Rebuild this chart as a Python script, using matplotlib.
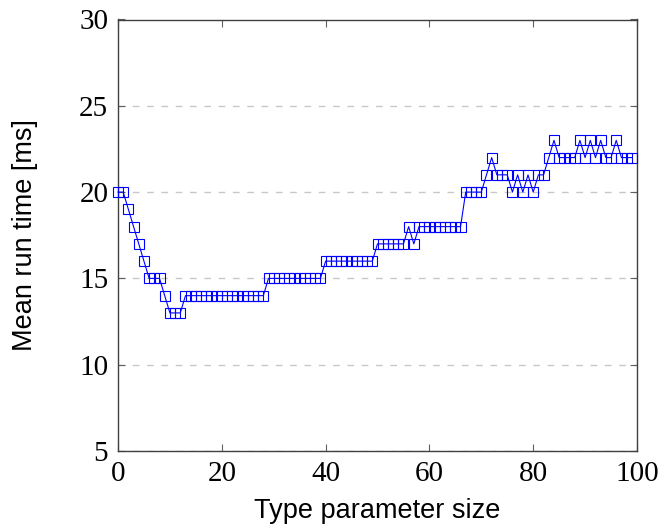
import matplotlib
matplotlib.use("Agg")
import matplotlib.pyplot as plt

# Data
sizes = list(range(0, 100))
run_time = (
    [20, 20, 19, 18, 17, 16, 15, 15, 15, 14, 13, 13, 13]
    + [14] * 16            # 13..28
    + [15] * 11            # 29..39
    + [16] * 10            # 40..49
    + [17] * 6             # 50..55
    + [18, 17]             # 56, 57
    + [18] * 9             # 58..66
    + [20] * 4             # 67..70
    + [21, 22, 21, 21, 21, 20, 21, 20, 21, 20, 21, 21, 22, 23]  # 71..84
    + [22, 22, 22, 22, 23, 22, 23, 22, 23, 22, 22, 23, 22, 22, 22]  # 85..99
)

x_ticks = [0, 20, 40, 60, 80, 100]
y_ticks = [5, 10, 15, 20, 25, 30]
x_label = "Type parameter size"
y_label = "Mean run time [ms]"

fig = plt.figure(figsize=(6.6, 5.26), dpi=100)
ax = fig.add_axes([118/660, 1 - 451/526, (637 - 118)/660, (451 - 19.5)/526])

ax.plot(sizes, run_time, color=(0, 0, 1), lw=0.8, marker='s', markersize=7.6,
        markerfacecolor='none', markeredgecolor=(0, 0, 1), markeredgewidth=0.8,
        clip_on=False, zorder=3)

ax.set_xlim(0, 100)
ax.set_ylim(5, 30)
ax.set_xticks(x_ticks)
ax.set_yticks(y_ticks)

ax.yaxis.grid(True, color='#c8c8c8', lw=1.0, linestyle=(0, (4.8, 5.5)))
ax.set_axisbelow(True)

serif = ['Liberation Serif', 'DejaVu Serif']
for lab in ax.get_xticklabels() + ax.get_yticklabels():
    lab.set_fontfamily(serif)
    lab.set_fontsize(21)

ax.tick_params(axis='both', direction='in', length=5, width=0.8, color='#606060',
               top=True, right=True)
ax.tick_params(axis='x', pad=7)
ax.tick_params(axis='y', pad=7)

for s in ax.spines.values():
    s.set_color('#404040')
    s.set_linewidth(1.0)

sans = ['Liberation Sans', 'DejaVu Sans']
ax.set_xlabel(x_label, fontfamily=sans, fontsize=19.5)
ax.set_ylabel(y_label, fontfamily=sans, fontsize=19.5)
ax.xaxis.set_label_coords(0.5, (451 - 498) / 431.5)
ax.yaxis.set_label_coords((38 - 118) / 519, 0.5)

fig.savefig("out.png", dpi=100)
